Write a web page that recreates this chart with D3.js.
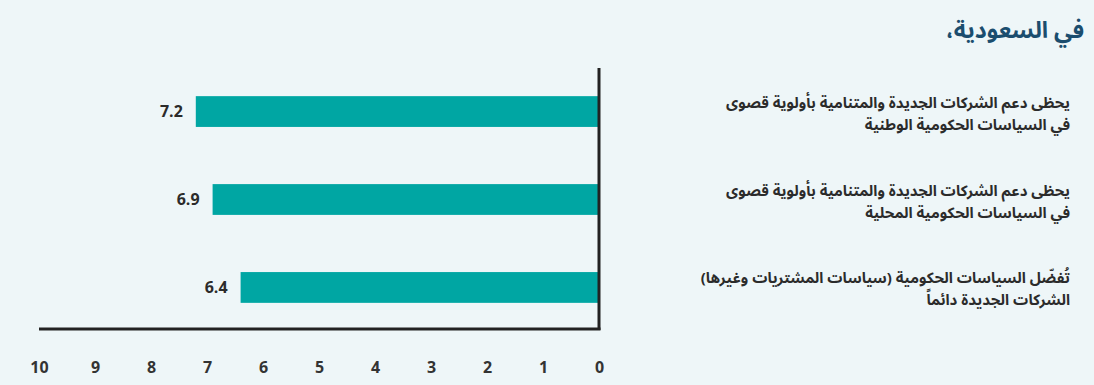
<!DOCTYPE html>
<html lang="ar">
<head>
<meta charset="utf-8">
<script src="https://cdn.jsdelivr.net/npm/d3@7"></script>
<style>
  html, body { margin: 0; padding: 0; background: #eef6f8; }
  svg { display: block; }
  text { font-family: "Noto Sans Arabic", "Noto Sans", "DejaVu Sans", sans-serif; }
</style>
</head>
<body>
<div id="chart"></div>
<script>
var title = "في السعودية،";

var categories = [
  ["يحظى دعم الشركات الجديدة والمتنامية بأولوية قصوى", "في السياسات الحكومية الوطنية"],
  ["يحظى دعم الشركات الجديدة والمتنامية بأولوية قصوى", "في السياسات الحكومية المحلية"],
  ["تُفضّل السياسات الحكومية (سياسات المشتريات وغيرها)", "الشركات الجديدة دائماً"]
];
var values = [7.2, 6.9, 6.4];
var tickValues = [0, 1, 2, 3, 4, 5, 6, 7, 8, 9, 10];

var width = 1094, height = 385;

var svg = d3.select("#chart").append("svg")
  .attr("width", width)
  .attr("height", height);

var x = d3.scaleLinear().domain([0, 10]).range([599, 39]);
var y = d3.scaleBand()
  .domain(d3.range(values.length))
  .range([68, 331])
  .paddingInner(0.65)
  .paddingOuter(0.32);

// title (rtl: start = right edge)
svg.append("text")
  .attr("x", 1084)
  .attr("y", 38)
  .attr("direction", "rtl")
  .attr("text-anchor", "start")
  .style("font-size", "23px")
  .style("font-weight", "bold")
  .style("fill", "#1b4d6e")
  .text(title);

// bars
svg.append("g").selectAll("rect")
  .data(values)
  .enter().append("rect")
  .attr("x", function(d) { return x(d); })
  .attr("y", function(d, i) { return y(i); })
  .attr("width", function(d) { return x(0) - x(d); })
  .attr("height", y.bandwidth())
  .style("fill", "#00a6a3");

// value labels
svg.append("g").selectAll("text")
  .data(values)
  .enter().append("text")
  .attr("x", function(d) { return x(d) - 13; })
  .attr("y", function(d, i) { return y(i) + y.bandwidth() / 2; })
  .attr("dy", "0.35em")
  .attr("text-anchor", "end")
  .style("font-size", "16px")
  .style("font-weight", "bold")
  .style("fill", "#2b2b2b")
  .text(function(d) { return d.toFixed(1); });

// category labels, one text per line
svg.append("g").selectAll("g")
  .data(categories)
  .enter().append("g")
  .each(function(lines, i) {
    d3.select(this).selectAll("text")
      .data(lines)
      .enter().append("text")
      .attr("x", 1070)
      .attr("y", function(s, j) { return y(i) + y.bandwidth() / 2 - 4 + j * 22; })
      .attr("direction", "rtl")
      .attr("text-anchor", "start")
      .style("font-size", "15px")
      .style("font-weight", "bold")
      .style("fill", "#2b2b2b")
      .text(function(s) { return s; });
  });

// axis lines
svg.append("line")
  .attr("x1", x(10)).attr("x2", x(0) + 1.5)
  .attr("y1", 329).attr("y2", 329)
  .style("stroke", "#222").style("stroke-width", 3);

svg.append("line")
  .attr("x1", x(0)).attr("x2", x(0))
  .attr("y1", 68).attr("y2", 330)
  .style("stroke", "#222").style("stroke-width", 3);

// tick labels
var axis = d3.axisBottom(x).tickValues(tickValues).tickSize(0).tickPadding(0)
  .tickFormat(d3.format("d"));
var ax = svg.append("g")
  .attr("transform", "translate(0,362)")
  .call(axis);
ax.select(".domain").remove();
ax.selectAll("text")
  .style("font-size", "16px")
  .style("font-weight", "bold")
  .style("fill", "#333")
  .style("font-family", "\"Noto Sans\", \"DejaVu Sans\", sans-serif");
</script>
</body>
</html>
